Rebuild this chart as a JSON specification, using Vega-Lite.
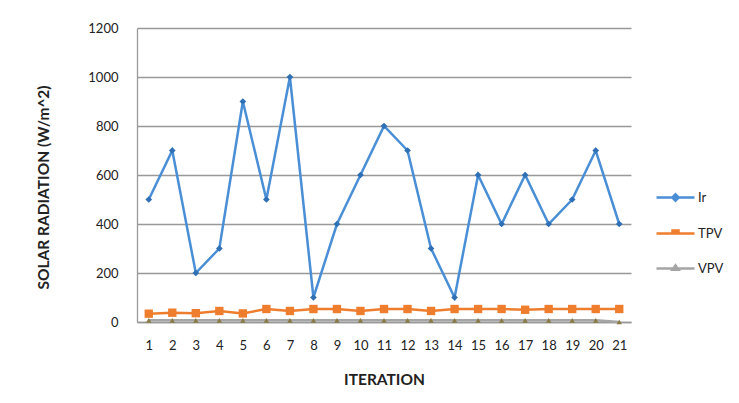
{
  "$schema": "https://vega.github.io/schema/vega-lite/v6.json",
  "width": 494,
  "height": 294,
  "autosize": "none",
  "padding": {"left": 137, "top": 28, "right": 108, "bottom": 81},
  "background": "white",
  "config": {
    "view": {"stroke": null},
    "font": "Lato",
    "axis": {"labelFont": "Lato", "titleFont": "Lato", "labelColor": "#222", "titleColor": "#222", "labelFontSize": 13, "titleFontSize": 15.5, "titleFontWeight": "bold"}
  },
  "data": {"values": [
    {"iter": 1, "series": "Ir", "value": 500}, {"iter": 2, "series": "Ir", "value": 700}, {"iter": 3, "series": "Ir", "value": 200},
    {"iter": 4, "series": "Ir", "value": 300}, {"iter": 5, "series": "Ir", "value": 900}, {"iter": 6, "series": "Ir", "value": 500},
    {"iter": 7, "series": "Ir", "value": 1000}, {"iter": 8, "series": "Ir", "value": 100}, {"iter": 9, "series": "Ir", "value": 400},
    {"iter": 10, "series": "Ir", "value": 600}, {"iter": 11, "series": "Ir", "value": 800}, {"iter": 12, "series": "Ir", "value": 700},
    {"iter": 13, "series": "Ir", "value": 300}, {"iter": 14, "series": "Ir", "value": 100}, {"iter": 15, "series": "Ir", "value": 600},
    {"iter": 16, "series": "Ir", "value": 400}, {"iter": 17, "series": "Ir", "value": 600}, {"iter": 18, "series": "Ir", "value": 400},
    {"iter": 19, "series": "Ir", "value": 500}, {"iter": 20, "series": "Ir", "value": 700}, {"iter": 21, "series": "Ir", "value": 400},
    {"iter": 1, "series": "TPV", "value": 34}, {"iter": 2, "series": "TPV", "value": 38}, {"iter": 3, "series": "TPV", "value": 36},
    {"iter": 4, "series": "TPV", "value": 45}, {"iter": 5, "series": "TPV", "value": 35}, {"iter": 6, "series": "TPV", "value": 53},
    {"iter": 7, "series": "TPV", "value": 45}, {"iter": 8, "series": "TPV", "value": 53}, {"iter": 9, "series": "TPV", "value": 53},
    {"iter": 10, "series": "TPV", "value": 45}, {"iter": 11, "series": "TPV", "value": 53}, {"iter": 12, "series": "TPV", "value": 53},
    {"iter": 13, "series": "TPV", "value": 45}, {"iter": 14, "series": "TPV", "value": 53}, {"iter": 15, "series": "TPV", "value": 53},
    {"iter": 16, "series": "TPV", "value": 53}, {"iter": 17, "series": "TPV", "value": 50}, {"iter": 18, "series": "TPV", "value": 53},
    {"iter": 19, "series": "TPV", "value": 53}, {"iter": 20, "series": "TPV", "value": 53}, {"iter": 21, "series": "TPV", "value": 53},
    {"iter": 1, "series": "VPV", "value": 7}, {"iter": 2, "series": "VPV", "value": 7}, {"iter": 3, "series": "VPV", "value": 7},
    {"iter": 4, "series": "VPV", "value": 7}, {"iter": 5, "series": "VPV", "value": 7}, {"iter": 6, "series": "VPV", "value": 7},
    {"iter": 7, "series": "VPV", "value": 7}, {"iter": 8, "series": "VPV", "value": 7}, {"iter": 9, "series": "VPV", "value": 7},
    {"iter": 10, "series": "VPV", "value": 7}, {"iter": 11, "series": "VPV", "value": 7}, {"iter": 12, "series": "VPV", "value": 7},
    {"iter": 13, "series": "VPV", "value": 7}, {"iter": 14, "series": "VPV", "value": 7}, {"iter": 15, "series": "VPV", "value": 7},
    {"iter": 16, "series": "VPV", "value": 7}, {"iter": 17, "series": "VPV", "value": 7}, {"iter": 18, "series": "VPV", "value": 7},
    {"iter": 19, "series": "VPV", "value": 7}, {"iter": 20, "series": "VPV", "value": 7}, {"iter": 21, "series": "VPV", "value": 0}
  ]},
  "encoding": {
    "x": {
      "field": "iter", "type": "ordinal",
      "scale": {"type": "point", "padding": 0.5},
      "axis": {"title": "ITERATION", "labelAngle": 0, "ticks": false, "labelPadding": 17, "titlePadding": 20, "domainColor": "#999", "domainWidth": 1.3, "grid": false}
    },
    "y": {
      "field": "value", "type": "quantitative",
      "scale": {"domain": [0, 1200]},
      "axis": {"title": "SOLAR RADIATION (W/m^2)", "values": [0, 200, 400, 600, 800, 1000, 1200], "format": "d", "ticks": false, "labelPadding": 19, "titlePadding": 36, "titleY": 159, "domainColor": "#999", "domainWidth": 1.3, "gridColor": "#999", "gridWidth": 1.3}
    }
  },
  "layer": [
    {
      "mark": {"type": "line", "strokeWidth": 2.5},
      "encoding": {
        "color": {
          "field": "series", "type": "nominal",
          "scale": {"domain": ["Ir", "TPV", "VPV"], "range": ["#4a8fd6", "#ef7d2e", "#a5a5a5"]},
          "legend": {
            "title": null, "orient": "none", "legendX": 527, "legendY": 158,
            "symbolSize": 400, "symbolStrokeWidth": 2.5, "rowPadding": 16,
            "labelFont": "Lato", "labelFontSize": 13, "labelColor": "#222", "labelOffset": 11,
            "encode": {
              "symbols": {
                "update": {
                  "shape": {"signal": "datum.value === 'Ir' ? 'M-1.9,0H1.9M0,-0.32L0.32,0L0,0.32L-0.32,0Z' : datum.value === 'TPV' ? 'M-1.9,0H1.9M-0.3,-0.3H0.3V0H-0.3Z' : 'M-1.9,0H1.9M0,-0.3L0.3,0.12H-0.3Z'"},
                  "fill": {"signal": "datum.value === 'Ir' ? '#2f6fb5' : datum.value === 'TPV' ? '#ef7d2e' : '#8a7a45'"},
                  "opacity": {"value": 1}
                }
              }
            }
          }
        }
      }
    },
    {
      "transform": [{"filter": "datum.series === 'Ir'"}],
      "mark": {"type": "point", "filled": true, "opacity": 1, "shape": "diamond", "color": "#2f6fb5", "size": 45}
    },
    {
      "transform": [{"filter": "datum.series === 'TPV'"}],
      "mark": {"type": "point", "filled": true, "opacity": 1, "shape": "square", "color": "#ef7d2e", "size": 70}
    },
    {
      "transform": [{"filter": "datum.series === 'VPV'"}],
      "mark": {"type": "point", "filled": true, "opacity": 1, "shape": "triangle-up", "color": "#8a7a45", "size": 30}
    }
  ]
}
